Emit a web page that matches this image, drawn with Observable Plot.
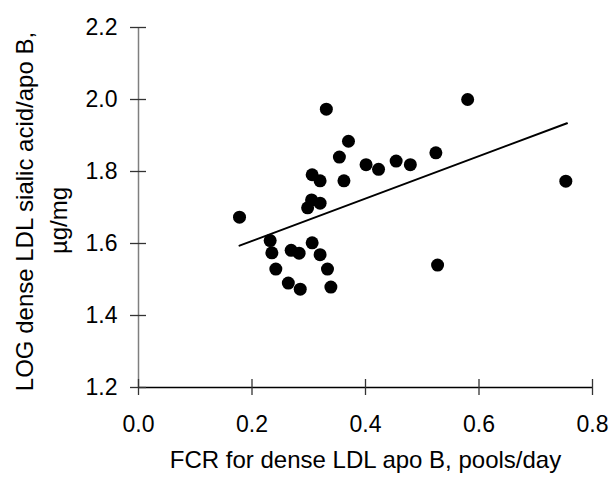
<!DOCTYPE html>
<html><head><meta charset="utf-8">
<script src="https://cdn.jsdelivr.net/npm/d3@7"></script>
<script src="https://cdn.jsdelivr.net/npm/@observablehq/plot@0.6"></script>
<style>body{margin:0;background:#fff}</style>
</head><body><div id="chart"></div>
<script>
const fcr = [0.178, 0.331, 0.370, 0.354, 0.401, 0.423, 0.454, 0.479, 0.306, 0.320,
             0.362, 0.524, 0.753, 0.580, 0.527, 0.305, 0.320, 0.298, 0.232, 0.235,
             0.269, 0.283, 0.306, 0.320, 0.242, 0.333, 0.264, 0.285, 0.339];
const logSialic = [1.673, 1.973, 1.884, 1.840, 1.819, 1.806, 1.829, 1.819, 1.791, 1.774,
                   1.774, 1.852, 1.773, 2.000, 1.540, 1.721, 1.712, 1.699, 1.608, 1.574,
                   1.581, 1.573, 1.602, 1.569, 1.529, 1.529, 1.490, 1.473, 1.479];
const xTicks = [0, 0.2, 0.4, 0.6, 0.8];
const yTicks = [1.2, 1.4, 1.6, 1.8, 2.0, 2.2];
const fitX = [0.178, 0.755];
const fitY = [1.594, 1.934];
const xTitle = "FCR for dense LDL apo B, pools/day";
const yTitle1 = "LOG dense LDL sialic acid/apo B,";
const yTitle2 = "µg/mg";

const points = fcr.map((x, i) => ({x, y: logSialic[i]}));
const fit = fitX.map((x, i) => ({x, y: fitY[i]}));
const font = "'Liberation Sans', Arial, sans-serif";

const chart = Plot.plot({
  width: 611, height: 478,
  marginLeft: 138, marginRight: 19, marginTop: 27, marginBottom: 91,
  style: {fontFamily: font, background: "white", color: "black"},
  x: {domain: [0, 0.8]},
  y: {domain: [1.2, 2.2]},
  marks: [
    Plot.ruleX([0], {y1: 1.2, y2: 2.2, stroke: "#7f7f7f", strokeWidth: 1.5}),
    Plot.ruleY([1.2], {x1: 0, x2: 0.8, stroke: "black", strokeWidth: 1.5}),
    Plot.axisY({ticks: yTicks, tickSize: 16, dx: 8, tickPadding: 13, tickFormat: d3.format(".1f"),
                fontSize: 23, label: null, stroke: "#333", strokeWidth: 1.3}),
    Plot.axisX({ticks: xTicks, tickSize: 16, dy: -8, tickPadding: 20, tickFormat: d3.format(".1f"),
                fontSize: 23, label: null, stroke: "#333", strokeWidth: 1.3}),
    Plot.line(fit, {x: "x", y: "y", stroke: "black", strokeWidth: 2}),
    Plot.dot(points, {x: "x", y: "y", r: 6.5, fill: "black", stroke: null}),
    Plot.text([yTitle1], {frameAnchor: "left", rotate: -90, dx: -113, dy: 4, fontSize: 24,
                          lineAnchor: "middle", textAnchor: "middle", fill: "black"}),
    Plot.text([yTitle2], {frameAnchor: "left", rotate: -90, dx: -79, dy: 13, fontSize: 24,
                          lineAnchor: "middle", textAnchor: "middle", fill: "black"}),
    Plot.text([xTitle], {frameAnchor: "bottom", dy: 63, lineAnchor: "top", fontSize: 24, fill: "black"})
  ]
});
document.getElementById("chart").appendChild(chart);
</script>
</body></html>
